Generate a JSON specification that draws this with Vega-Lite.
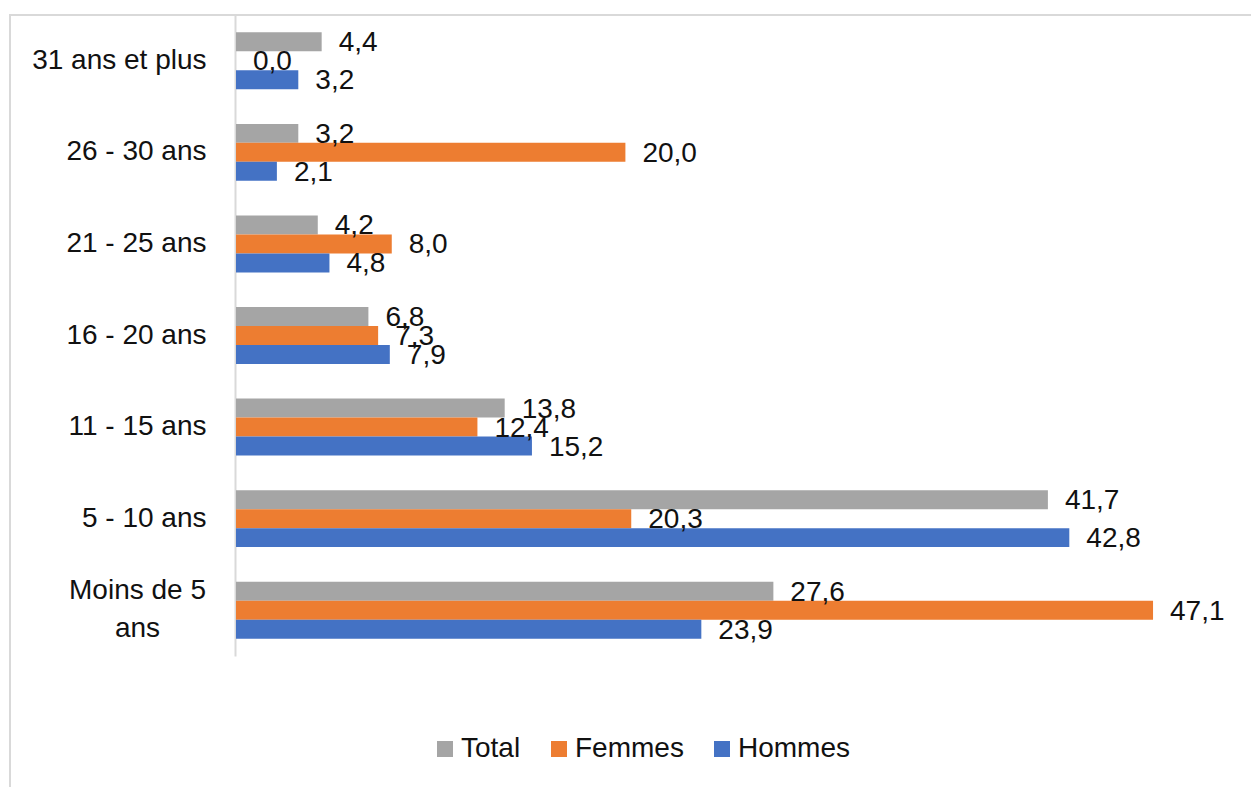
{
  "$schema": "https://vega.github.io/schema/vega-lite/v6.json",
  "autosize": {"type": "none"},
  "width": 1244,
  "height": 775,
  "padding": {"left": 10, "top": 15, "right": -3, "bottom": -3},
  "background": "#ffffff",
  "config": {
    "view": {"stroke": "#d9d9d9", "strokeWidth": 2},
    "font": "Liberation Sans",
    "locale": {
      "number": {"decimal": ",", "thousands": " ", "grouping": [3], "currency": ["", " €"]}
    }
  },
  "data": {
    "values": [
      {"age": "31 ans et plus", "sexe": "Total", "pct": 4.4},
      {"age": "31 ans et plus", "sexe": "Femmes", "pct": 0.0},
      {"age": "31 ans et plus", "sexe": "Hommes", "pct": 3.2},
      {"age": "26 - 30 ans", "sexe": "Total", "pct": 3.2},
      {"age": "26 - 30 ans", "sexe": "Femmes", "pct": 20.0},
      {"age": "26 - 30 ans", "sexe": "Hommes", "pct": 2.1},
      {"age": "21 - 25 ans", "sexe": "Total", "pct": 4.2},
      {"age": "21 - 25 ans", "sexe": "Femmes", "pct": 8.0},
      {"age": "21 - 25 ans", "sexe": "Hommes", "pct": 4.8},
      {"age": "16 - 20 ans", "sexe": "Total", "pct": 6.8},
      {"age": "16 - 20 ans", "sexe": "Femmes", "pct": 7.3},
      {"age": "16 - 20 ans", "sexe": "Hommes", "pct": 7.9},
      {"age": "11 - 15 ans", "sexe": "Total", "pct": 13.8},
      {"age": "11 - 15 ans", "sexe": "Femmes", "pct": 12.4},
      {"age": "11 - 15 ans", "sexe": "Hommes", "pct": 15.2},
      {"age": "5 - 10 ans", "sexe": "Total", "pct": 41.7},
      {"age": "5 - 10 ans", "sexe": "Femmes", "pct": 20.3},
      {"age": "5 - 10 ans", "sexe": "Hommes", "pct": 42.8},
      {"age": "Moins de 5 ans", "sexe": "Total", "pct": 27.6},
      {"age": "Moins de 5 ans", "sexe": "Femmes", "pct": 47.1},
      {"age": "Moins de 5 ans", "sexe": "Hommes", "pct": 23.9}
    ]
  },
  "encoding": {
    "y": {
      "field": "age",
      "type": "nominal",
      "sort": ["31 ans et plus", "26 - 30 ans", "21 - 25 ans", "16 - 20 ans", "11 - 15 ans", "5 - 10 ans", "Moins de 5 ans"],
      "scale": {"range": [0, 641], "paddingInner": 0.378, "paddingOuter": 0.189},
      "axis": {
        "title": null,
        "orient": "left",
        "offset": -225,
        "ticks": false,
        "domainColor": "#d9d9d9",
        "domainWidth": 2,
        "labelFont": "Liberation Sans",
        "labelFontSize": 28,
        "labelColor": "#111111",
        "labelLineHeight": 38,
        "labelPadding": {"condition": {"test": "datum.value == 'Moins de 5 ans'", "value": 98}, "value": 29},
        "labelAlign": {"condition": {"test": "datum.value == 'Moins de 5 ans'", "value": "center"}, "value": "right"},
        "labelOffset": {"condition": {"test": "datum.value == 'Moins de 5 ans'", "value": -19}, "value": 0},
        "labelExpr": "datum.value == 'Moins de 5 ans' ? ['Moins de 5', 'ans'] : datum.label"
      }
    },
    "yOffset": {
      "field": "sexe",
      "type": "nominal",
      "sort": ["Total", "Femmes", "Hommes"],
      "scale": {"paddingInner": 0, "paddingOuter": 0}
    },
    "x": {
      "field": "pct",
      "type": "quantitative",
      "scale": {"domain": [0, 50], "range": [226, 1199.5], "nice": false},
      "axis": null
    }
  },
  "layer": [
    {
      "mark": {"type": "bar"},
      "encoding": {
        "color": {
          "field": "sexe",
          "type": "nominal",
          "sort": ["Total", "Femmes", "Hommes"],
          "scale": {"domain": ["Total", "Femmes", "Hommes"], "range": ["#a5a5a5", "#ed7d31", "#4472c4"]},
          "legend": {
            "title": null,
            "orient": "none",
            "direction": "horizontal",
            "legendX": 421,
            "legendY": 720,
            "padding": 0,
            "symbolType": "square",
            "symbolSize": 256,
            "symbolStrokeWidth": 0,
            "labelFont": "Liberation Sans",
            "labelFontSize": 28,
            "labelColor": "#111111",
            "labelOffset": 2,
            "columnPadding": 24
          }
        }
      }
    },
    {
      "mark": {"type": "text", "align": "left", "baseline": "middle", "dx": 17, "dy": 1.5, "fontSize": 28, "font": "Liberation Sans", "color": "#111111"},
      "encoding": {
        "text": {"field": "pct", "type": "quantitative", "format": ".1f"}
      }
    }
  ]
}
